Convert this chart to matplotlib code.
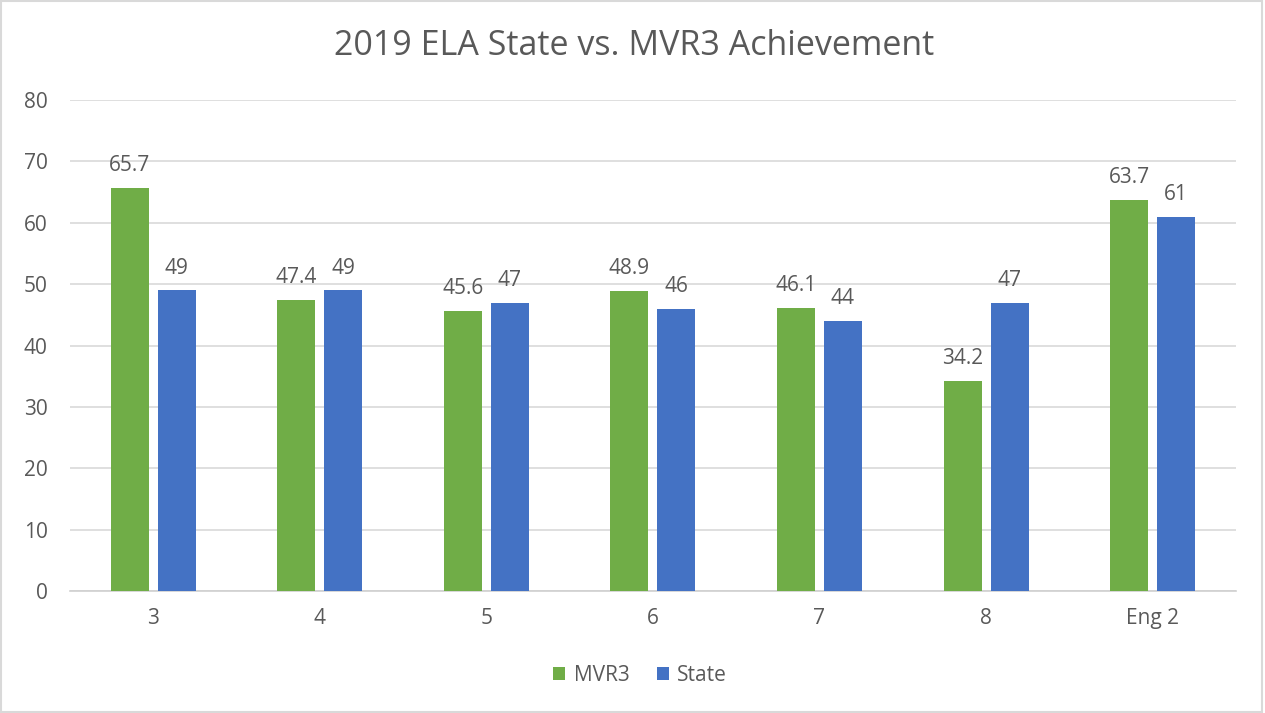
import numpy as np
import matplotlib.pyplot as plt
from matplotlib.patches import Rectangle

categories = ['3', '4', '5', '6', '7', '8', 'Eng 2']
mvr3 = [65.7, 47.4, 45.6, 48.9, 46.1, 34.2, 63.7]
state = [49, 49, 47, 46, 44, 47, 61]

green = '#70AD47'
blue = '#4472C4'
txt = '#595959'

plt.rcParams['font.family'] = ['Open Sans', 'DejaVu Sans']

fig = plt.figure(figsize=(12.65, 7.13), dpi=100)
ax = fig.add_axes([0.0553, 0.1711, 0.9217, 0.6886])

x = np.arange(len(categories))
w = 0.228
b1 = ax.bar(x - 0.141, mvr3, w, color=green, label='MVR3', zorder=3)
b2 = ax.bar(x + 0.141, state, w, color=blue, label='State', zorder=3)

for bars, vals in [(b1, mvr3), (b2, state)]:
    for r, v in zip(bars, vals):
        ax.annotate(f'{v:g}', (r.get_x() + r.get_width() / 2, v),
                    xytext=(0, 12), textcoords='offset points',
                    ha='center', va='baseline', fontsize=15, color=txt)

ax.set_xlim(-0.5, len(categories) - 0.5)
ax.set_ylim(0, 80)
ax.set_yticks(range(0, 81, 10))
ax.set_xticks(x)
ax.set_xticklabels(categories)
ax.grid(axis='y', color='#d9d9d9', linewidth=1.2, zorder=0)
for s in ['top', 'right', 'left']:
    ax.spines[s].set_visible(False)
ax.spines['bottom'].set_color('#d0d0d0')
ax.spines['bottom'].set_linewidth(1.2)
ax.tick_params(length=0, labelsize=15, labelcolor=txt)
ax.tick_params(axis='x', pad=12)
ax.tick_params(axis='y', pad=16)

fig.text(0.501, 0.936, '2019 ELA State vs. MVR3 Achievement', fontsize=24.5,
         color=txt, ha='center', va='center')

fig.legend(handles=[b1, b2], loc='center', bbox_to_anchor=(0.506, 0.053), ncol=2,
           frameon=False, fontsize=15, labelcolor=txt, handlelength=0.6,
           handleheight=0.6, handletextpad=0.4, columnspacing=1.3)

fig.patches.append(Rectangle((0.001, 0.001), 0.997, 0.997, transform=fig.transFigure,
                             fill=False, edgecolor='#d9d9d9', linewidth=1.5))

fig.savefig('out.png', dpi=100)
